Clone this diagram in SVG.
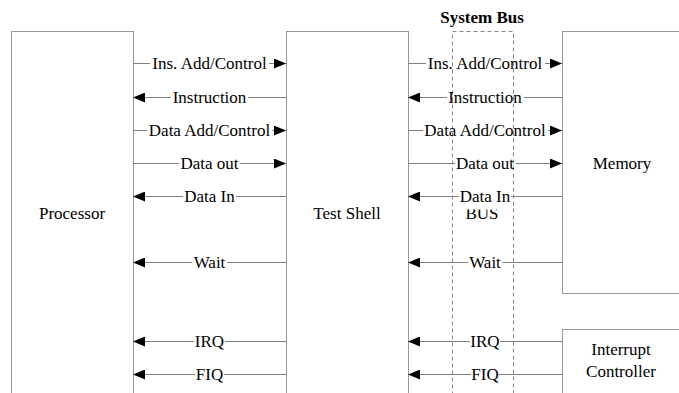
<svg xmlns="http://www.w3.org/2000/svg" width="679" height="393" viewBox="0 0 679 393">
<defs>
<style>
.box{fill:#fff;stroke:#999;stroke-width:1}
.bus{fill:none;stroke:#888;stroke-width:1;stroke-dasharray:4,3}
.t{font-family:'Liberation Serif',serif;font-size:17px;fill:#000}
.c{text-anchor:middle}
.ln{stroke:#808080;stroke-width:1;fill:none}
.la{stroke:#808080;stroke-width:1;fill:none;marker-end:url(#ah)}
</style>
<marker id="ah" markerUnits="userSpaceOnUse" markerWidth="12" markerHeight="10" refX="12" refY="5" orient="auto">
<path d="M0,0 L12,5 L0,10 Z" fill="#000"/>
</marker>
</defs>
<rect width="679" height="393" fill="#fff"/>
<g id="processor">
<rect class="box" x="11.5" y="31.5" width="122" height="380"/>
<text class="t c" x="72" y="219">Processor</text>
</g>
<g id="test-shell">
<rect class="box" x="286.5" y="31.5" width="122" height="380"/>
<text class="t c" x="347" y="219">Test Shell</text>
</g>
<g id="system-bus">
<rect class="bus" x="452.5" y="31.5" width="61" height="380"/>
<text class="t c" x="482" y="23" style="font-weight:bold">System Bus</text>
<text class="t c" x="482" y="219">BUS</text>
</g>
<g id="memory">
<rect class="box" x="562.5" y="31.5" width="130" height="262"/>
<text class="t c" x="622" y="169">Memory</text>
</g>
<g id="interrupt-controller">
<rect class="box" x="562.5" y="329.5" width="130" height="100"/>
<text class="t c" x="621" y="355">Interrupt</text>
<text class="t c" x="621" y="377">Controller</text>
</g>
<g id="connectors">
<line class="ln" x1="133" y1="63.5" x2="150" y2="63.5"/>
<line class="la" x1="269" y1="63.5" x2="286" y2="63.5"/>
<text class="t c" x="209.5" y="69">Ins. Add/Control</text>

<line class="la" x1="171" y1="97.5" x2="133" y2="97.5"/>
<line class="ln" x1="248" y1="97.5" x2="286" y2="97.5"/>
<text class="t c" x="209.5" y="103">Instruction</text>

<line class="ln" x1="133" y1="130.5" x2="147" y2="130.5"/>
<line class="la" x1="272" y1="130.5" x2="286" y2="130.5"/>
<text class="t c" x="209.5" y="136">Data Add/Control</text>

<line class="ln" x1="133" y1="163.5" x2="179" y2="163.5"/>
<line class="la" x1="240" y1="163.5" x2="286" y2="163.5"/>
<text class="t c" x="209.5" y="169">Data out</text>

<line class="la" x1="183" y1="196.5" x2="133" y2="196.5"/>
<line class="ln" x1="236" y1="196.5" x2="286" y2="196.5"/>
<text class="t c" x="209.5" y="202">Data In</text>

<line class="la" x1="192" y1="262.5" x2="133" y2="262.5"/>
<line class="ln" x1="227" y1="262.5" x2="286" y2="262.5"/>
<text class="t c" x="209.5" y="268">Wait</text>

<line class="la" x1="194" y1="341.5" x2="133" y2="341.5"/>
<line class="ln" x1="225" y1="341.5" x2="286" y2="341.5"/>
<text class="t c" x="209.5" y="347">IRQ</text>

<line class="la" x1="195" y1="374.5" x2="133" y2="374.5"/>
<line class="ln" x1="224" y1="374.5" x2="286" y2="374.5"/>
<text class="t c" x="209.5" y="380">FIQ</text>

<line class="ln" x1="408" y1="63.5" x2="426" y2="63.5"/>
<line class="la" x1="545" y1="63.5" x2="562" y2="63.5"/>
<text class="t c" x="485" y="69">Ins. Add/Control</text>

<line class="la" x1="447" y1="97.5" x2="408" y2="97.5"/>
<line class="ln" x1="524" y1="97.5" x2="562" y2="97.5"/>
<text class="t c" x="485" y="103">Instruction</text>

<line class="ln" x1="408" y1="130.5" x2="423" y2="130.5"/>
<line class="la" x1="548" y1="130.5" x2="562" y2="130.5"/>
<text class="t c" x="485" y="136">Data Add/Control</text>

<line class="ln" x1="408" y1="163.5" x2="455" y2="163.5"/>
<line class="la" x1="516" y1="163.5" x2="562" y2="163.5"/>
<text class="t c" x="485" y="169">Data out</text>

<line class="la" x1="459" y1="196.5" x2="408" y2="196.5"/>
<line class="ln" x1="511" y1="196.5" x2="562" y2="196.5"/>
<rect x="459" y="200" width="52" height="9.5" fill="#fff"/>
<text class="t c" x="485" y="202">Data In</text>

<line class="la" x1="468" y1="262.5" x2="408" y2="262.5"/>
<line class="ln" x1="502" y1="262.5" x2="562" y2="262.5"/>
<text class="t c" x="485" y="268">Wait</text>

<line class="la" x1="470" y1="341.5" x2="408" y2="341.5"/>
<line class="ln" x1="500" y1="341.5" x2="562" y2="341.5"/>
<text class="t c" x="485" y="347">IRQ</text>

<line class="la" x1="471" y1="374.5" x2="408" y2="374.5"/>
<line class="ln" x1="499" y1="374.5" x2="562" y2="374.5"/>
<text class="t c" x="485" y="380">FIQ</text>
</g>
</svg>
